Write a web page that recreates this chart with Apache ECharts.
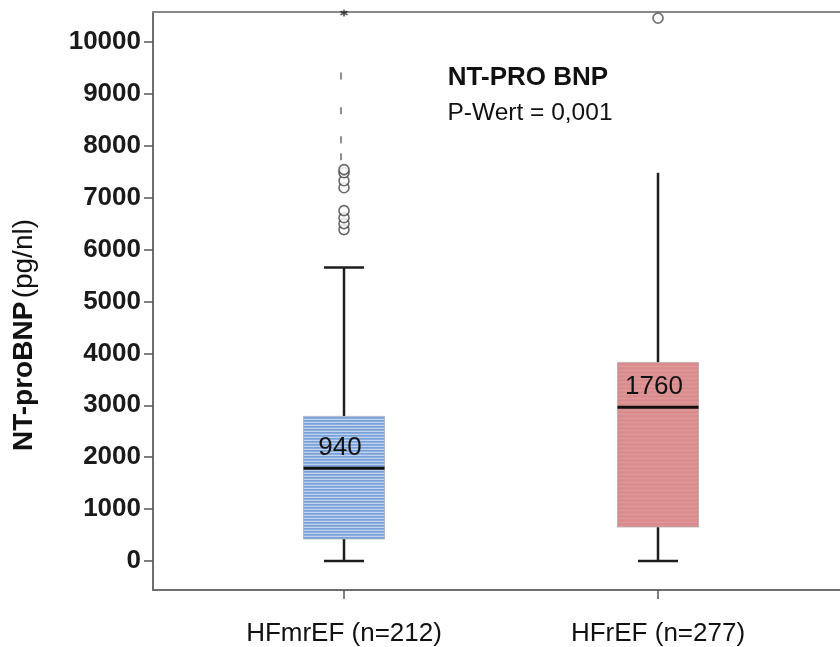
<!DOCTYPE html>
<html>
<head>
<meta charset="utf-8">
<script src="https://cdn.jsdelivr.net/npm/echarts@6/dist/echarts.min.js"></script>
<style>
html,body{margin:0;padding:0;background:#fff;}
#chart{width:840px;height:647px;}
</style>
</head>
<body>
<div id="chart"></div>
<script>
// ---- data ----
const categories = ['HFmrEF (n=212)', 'HFrEF (n=277)'];
const whiskerLow = [0, 0];
const q1 = [423, 654];
const median = [1788, 2962];
const q3 = [2788, 3827];
const whiskerHigh = [5654, 7480];
const medianLabels = ['940', '1760'];
const outliersHFmrEF = [6385, 6500, 6615, 6750, 7192, 7327, 7481, 7540];
const faintOutliersHFmrEF = [7788, 8115, 8673, 9346];
const extremesHFmrEF = [10558];
const outliersHFrEF = [10460];
const yTicks = [0, 1000, 2000, 3000, 4000, 5000, 6000, 7000, 8000, 9000, 10000];
const titleText = 'NT-PRO BNP';
const subText = 'P-Wert = 0,001';

const FONT = '"Liberation Sans", Arial, sans-serif';

function makePattern(rows) {
  const c = document.createElement('canvas');
  c.width = 4; c.height = rows.length;
  const ctx = c.getContext('2d');
  rows.forEach((col, i) => { ctx.fillStyle = col; ctx.fillRect(0, i, 4, 1); });
  return { type: 'pattern', image: c, repeat: 'repeat' };
}
const patterns = [
  makePattern(['#79a1d7', '#8cafdf', '#c0d3ee']),
  makePattern(['#d88a8c', '#db9092', '#df989a', '#d98d8f'])
];
const showUpperCap = [true, false];

const boxData = categories.map((c, i) => [i + 1, whiskerLow[i], q1[i], median[i], q3[i], whiskerHigh[i]]);

function renderBox(params, api) {
  const x = api.value(0);
  const lowPt = api.coord([x, api.value(1)]);
  const cx = lowPt[0], yLow = lowPt[1];
  const yQ1 = api.coord([x, api.value(2)])[1];
  const yMed = api.coord([x, api.value(3)])[1];
  const yQ3 = api.coord([x, api.value(4)])[1];
  const yHigh = api.coord([x, api.value(5)])[1];
  const bw = 81, cw = 40;
  const ls = { stroke: '#1e1e1e', lineWidth: 2.5 };
  const children = [
    { type: 'line', shape: { x1: cx, y1: yLow, x2: cx, y2: yQ1 }, style: ls },
    { type: 'line', shape: { x1: cx, y1: yQ3, x2: cx, y2: yHigh }, style: ls },
    { type: 'line', shape: { x1: cx - cw / 2, y1: yLow, x2: cx + cw / 2, y2: yLow }, style: ls },
    { type: 'rect', shape: { x: cx - bw / 2, y: yQ3, width: bw, height: yQ1 - yQ3 },
      style: { fill: patterns[params.dataIndex], stroke: 'rgba(150,150,150,0.5)', lineWidth: 1 } },
    { type: 'line', shape: { x1: cx - bw / 2, y1: yMed, x2: cx + bw / 2, y2: yMed }, style: { stroke: '#111', lineWidth: 3 } },
    { type: 'text', x: cx - 4, y: yMed - 20,
      style: { text: medianLabels[params.dataIndex], fontSize: 26, fontFamily: FONT, fill: '#111', align: 'center', verticalAlign: 'middle' } }
  ];
  if (showUpperCap[params.dataIndex]) {
    children.push({ type: 'line', shape: { x1: cx - cw / 2, y1: yHigh, x2: cx + cw / 2, y2: yHigh }, style: ls });
  }
  return { type: 'group', children };
}

const chart = echarts.init(document.getElementById('chart'));
chart.setOption({
  animation: false,
  backgroundColor: '#fff',
  grid: { left: 153, right: 0, top: 12, bottom: 56 },
  xAxis: [{
    type: 'value', min: 0.3917, max: 2.5796, position: 'bottom',
    splitLine: { show: false },
    axisLine: { show: true, onZero: false, lineStyle: { color: '#6e6e6e', width: 2 } },
    axisTick: { show: true, customValues: [1, 2], length: 9, lineStyle: { color: '#555', width: 1.5 } },
    axisLabel: { customValues: [1, 2], margin: 31, fontSize: 26, fontFamily: FONT, color: '#111',
      formatter: v => categories[Math.round(v) - 1] || '' }
  }, {
    type: 'value', min: 0.3917, max: 2.5796, position: 'top',
    splitLine: { show: false },
    axisLine: { show: true, onZero: false, lineStyle: { color: '#888', width: 2 } },
    axisTick: { show: false }, axisLabel: { show: false }
  }],
  yAxis: {
    type: 'value', min: -558, max: 10577,
    splitLine: { show: false },
    axisLine: { show: true, onZero: false, lineStyle: { color: '#6e6e6e', width: 2 } },
    axisTick: { show: true, customValues: yTicks, length: 9, lineStyle: { color: '#555', width: 1.5 } },
    axisLabel: { customValues: yTicks, margin: 12, fontSize: 26, fontWeight: 'bold', fontFamily: FONT, color: '#1a1a1a',
      formatter: v => String(v) }
  },
  graphic: [
    { type: 'text', x: 528, y: 78, style: { text: titleText, fontSize: 26, fontWeight: 'bold', fontFamily: FONT, fill: '#111', align: 'center', verticalAlign: 'middle' } },
    { type: 'text', x: 530, y: 113, style: { text: subText, fontSize: 24.5, fontFamily: FONT, fill: '#111', align: 'center', verticalAlign: 'middle' } },
    { type: 'text', x: 24, y: 335, rotation: Math.PI / 2,
      style: { text: '{b|NT-proBNP} {r|(pg/nl)}', fontFamily: FONT, fill: '#111', align: 'center', verticalAlign: 'middle',
        rich: { b: { fontSize: 28, fontWeight: 'bold', fontFamily: FONT, fill: '#111' }, r: { fontSize: 28, fontFamily: FONT, fill: '#111' } } } }
  ],
  series: [
    { type: 'custom', renderItem: renderBox, data: boxData, encode: { x: 0, y: [1, 5] }, z: 2 },
    { type: 'scatter', data: outliersHFmrEF.map(v => [1, v]), symbol: 'circle', symbolSize: 10,
      itemStyle: { color: '#fff', borderColor: '#444', borderWidth: 1.6 }, z: 3 },
    { type: 'scatter', data: faintOutliersHFmrEF.map(v => [1, v]), symbol: 'rect', symbolSize: [1.5, 7], symbolOffset: [-3, 0],
      itemStyle: { color: '#444' }, z: 3 },
    { type: 'scatter', data: extremesHFmrEF.map(v => [1, v]), symbol: 'path://M0,-5L0,5M-4.3,-2.5L4.3,2.5M-4.3,2.5L4.3,-2.5', symbolSize: 7,
      itemStyle: { color: 'none', borderColor: '#222', borderWidth: 1.5 }, z: 4 },
    { type: 'scatter', data: outliersHFrEF.map(v => [2, v]), symbol: 'circle', symbolSize: 10,
      itemStyle: { color: '#fff', borderColor: '#555', borderWidth: 1.8 }, z: 3 }
  ]
});
</script>
</body>
</html>
